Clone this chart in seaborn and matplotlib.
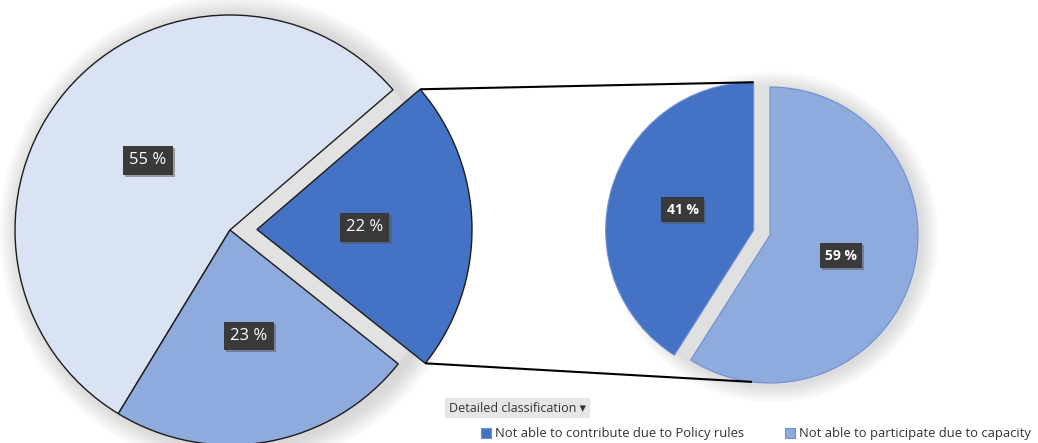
import matplotlib
matplotlib.use("Agg")
import matplotlib.pyplot as plt
import matplotlib.patheffects as pe
from matplotlib.patches import Wedge, Circle
import numpy as np
import seaborn as sns

# ---- data ----
main_labels = ["Not able to contribute due to Policy rules", "Other", "Not able to participate due to capacity"]
main_values = [22, 55, 23]
detail_labels = ["Not able to contribute due to Policy rules", "Not able to participate due to capacity"]
detail_values = [41, 59]
legend_title = "Detailed classification \u25BE"

# ---- style ----
sns.set_theme(style="white")
plt.rcParams["font.family"] = ["Open Sans", "DejaVu Sans"]

blue_dark = "#4472c4"
blue_mid = "#8faadc"
blue_light = "#dae3f3"
main_colors = [blue_dark, blue_light, blue_mid]
detail_colors = [blue_dark, blue_mid]

W, H = 1038, 443
fig = plt.figure(figsize=(W / 100, H / 100), dpi=100)
ax = fig.add_axes([0, 0, 1, 1])


def py(y):
    """Image-style y (from top) to axis y (from bottom)."""
    return H - y


def glow(center, radius, steps=14, spread=1.6, alpha=0.018):
    for k in range(steps, 0, -1):
        ax.add_patch(Circle(center, radius + k * spread, color="#7a7a7a",
                            alpha=alpha, lw=0, zorder=0))


def pct_fmt(p):
    return f"{p:.0f} %"


# ---- main pie ----
main_center = (230, py(230))
main_r = 215
start = -38.5  # first slice sits roughly centred on the right
explode_main = [27, 0, 0]  # offset in axis units (pixels)

glow((main_center[0] + 6, main_center[1] - 2), main_r)
# vacated area behind the pulled-out slice
span = main_values[0] / sum(main_values) * 360
ax.add_patch(Wedge(main_center, main_r, start, start + span, color="#e2e2e2", lw=0, zorder=1))

w_main, t_main, a_main = ax.pie(
    main_values, colors=main_colors, startangle=start, counterclock=True,
    explode=explode_main, center=main_center, radius=main_r,
    autopct=pct_fmt, pctdistance=0.5, labels=None,
    wedgeprops=dict(edgecolor="#1c1c1c", linewidth=1.0),
    textprops=dict(color="white", fontsize=12), frame=True,
)
for w in w_main:
    w.set_zorder(2)

# ---- detail pie ----
det_center = (770, py(235))
det_r = 148
explode_det = [17, 0]

glow((det_center[0] + 3, det_center[1] - 2), det_r, steps=12, spread=1.5, alpha=0.02)
ax.add_patch(Circle(det_center, det_r, color="#e0e0e0", lw=0, zorder=1))

w_det, t_det, a_det = ax.pie(
    detail_values, colors=detail_colors, startangle=90, counterclock=True,
    explode=explode_det, center=det_center, radius=det_r,
    autopct=pct_fmt, pctdistance=0.5, labels=None,
    wedgeprops=dict(edgecolor="#6f8fd0", linewidth=0.8),
    textprops=dict(color="white", fontsize=10, fontweight="bold"), frame=True,
)
for w in w_det:
    w.set_zorder(2)

# ---- percentage boxes ----
shadow = [pe.withSimplePatchShadow(offset=(1.5, -1.5), shadow_rgbFace="#555555", alpha=0.5)]
for t in list(a_main) + list(a_det):
    t.set_zorder(5)
    t.set_bbox(dict(boxstyle="square,pad=0.38", facecolor="#3a3a3a", edgecolor="none"))
    t.get_bbox_patch().set_path_effects(shadow)

# ---- connector lines ----
wx = w_main[0]
cx, cy = wx.center
top_pt = (cx + main_r * np.cos(np.radians(wx.theta2)), cy + main_r * np.sin(np.radians(wx.theta2)))
bot_pt = (cx + main_r * np.cos(np.radians(wx.theta1)), cy + main_r * np.sin(np.radians(wx.theta1)))

d41 = w_det[0]
d59 = w_det[1]
end_top = (d41.center[0], d41.center[1] + det_r)
ang = np.radians(263)
end_bot = (d59.center[0] + det_r * np.cos(ang), d59.center[1] + det_r * np.sin(ang))

ax.plot([top_pt[0], end_top[0]], [top_pt[1], end_top[1]], color="black", lw=1.5, zorder=3,
        solid_capstyle="butt")
ax.plot([bot_pt[0], end_bot[0]], [bot_pt[1], end_bot[1]], color="black", lw=1.5, zorder=3,
        solid_capstyle="butt")

# ---- legend ----
ax.text(449, py(408), legend_title, fontsize=9, color="#333333", va="center", ha="left",
        zorder=6, bbox=dict(boxstyle="square,pad=0.3", facecolor="#e6e6e6", edgecolor="none"))

leg = ax.legend(handles=[w_det[0], w_det[1]], labels=detail_labels, ncol=2,
                loc="center left", bbox_to_anchor=(481, py(434)), bbox_transform=ax.transData,
                frameon=False, fontsize=9.4, handlelength=0.75, handleheight=0.75,
                handletextpad=0.35, columnspacing=3.1, borderpad=0, borderaxespad=0)
for txt in leg.get_texts():
    txt.set_color("#333333")

ax.set_xlim(0, W)
ax.set_ylim(0, H)
ax.set_aspect("equal")
ax.axis("off")

fig.savefig("out.png", dpi=100, facecolor="white")
